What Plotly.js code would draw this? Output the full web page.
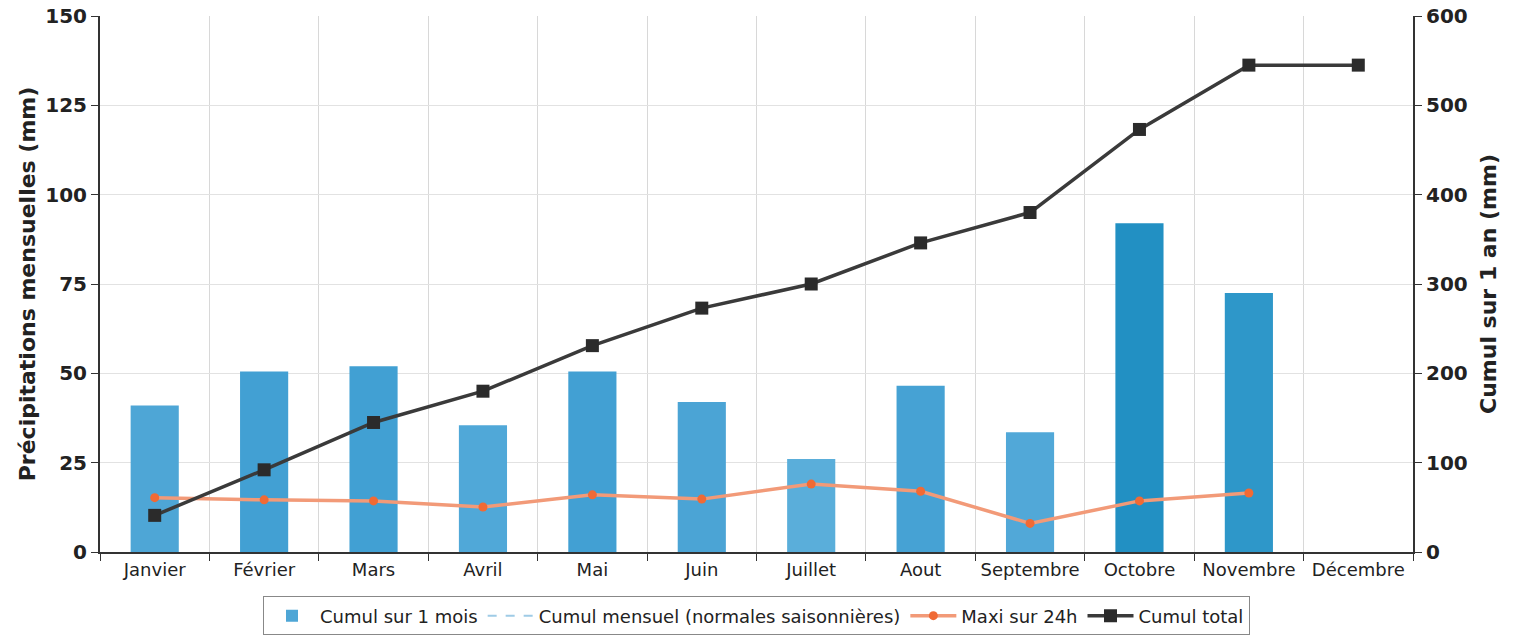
<!DOCTYPE html>
<html>
<head>
<meta charset="utf-8">
<script src="https://cdn.plot.ly/plotly-3.0.1.min.js"></script>
<style>html,body{margin:0;padding:0;background:#fff;}#chart{width:1521px;height:640px;}</style>
</head>
<body>
<div id="chart"></div>
<script>
const mois = ['Janvier','Février','Mars','Avril','Mai','Juin','Juillet','Aout','Septembre','Octobre','Novembre','Décembre'];
const cumulMois = [41, 50.5, 52, 35.5, 50.5, 42, 26, 46.5, 33.5, 92, 72.5, null];
const normales = [null, null, null, null, null, null, null, null, null, null, null, null];
const maxi24h = [15.2, 14.6, 14.3, 12.6, 16, 14.8, 19, 17, 8, 14.3, 16.5, null];
const cumulTotal = [41, 92, 145, 180, 231, 273, 300, 346, 380, 473, 545, 545];
const barColors = ['#4ea6d6','#42a0d3','#41a0d3','#50a8d8','#42a0d3','#4ba4d5','#5aaeda','#46a2d4','#51a8d8','#2290c3','#2e97c9','#2e97c9'];

const fam = 'DejaVu Sans, Verdana, sans-serif';

const traces = [
  {type: 'bar', name: 'Cumul sur 1 mois', x: mois, y: cumulMois, width: 0.44,
   marker: {color: barColors, line: {width: 0}}, yaxis: 'y'},
  {type: 'scatter', mode: 'lines', name: 'Cumul mensuel (normales saisonnières)', x: mois, y: normales,
   line: {color: '#9fcbe6', width: 2, dash: 'dash'}, yaxis: 'y'},
  {type: 'scatter', mode: 'lines+markers', name: 'Maxi sur 24h', x: mois, y: maxi24h,
   line: {color: '#f29a78', width: 3.5}, marker: {color: '#f06a35', size: 9, symbol: 'circle'}, yaxis: 'y'},
  {type: 'scatter', mode: 'lines+markers', name: 'Cumul total', x: mois, y: cumulTotal,
   line: {color: '#3a3a3a', width: 3.5}, marker: {color: '#2b2b2b', size: 13, symbol: 'square'}, yaxis: 'y2'}
];

const layout = {
  width: 1521, height: 640,
  margin: {l: 100, r: 108, t: 16, b: 88, autoexpand: false},
  paper_bgcolor: '#fff', plot_bgcolor: '#fff',
  font: {family: fam, size: 18, color: '#222'},
  showlegend: true,
  legend: {orientation: 'h', x: 0.5, xanchor: 'center', yref: 'container', y: 0.068, yanchor: 'top',
           bordercolor: '#888', borderwidth: 1, font: {family: fam, size: 18, color: '#222'},
           traceorder: 'normal', itemwidth: 46},
  xaxis: {type: 'category', tickson: 'boundaries', ticks: 'outside', ticklen: 7, tickcolor: '#333',
          showline: true, linecolor: '#333', linewidth: 2, showgrid: true, gridcolor: '#d8d8d8',
          tickangle: 0, automargin: false,
          tickfont: {family: fam, size: 18, color: '#222'}, range: [-0.5, 11.5], fixedrange: true},
  yaxis: {range: [0, 150], dtick: 25, ticks: 'outside', ticklen: 7, tickcolor: '#333',
          showline: true, linecolor: '#333', linewidth: 2, gridcolor: '#e2e2e2', zeroline: false,
          automargin: false,
          tickfont: {family: fam, size: 20, color: '#222', weight: 'bold'},
          title: {text: 'Précipitations mensuelles (mm)', standoff: 4,
                  font: {family: fam, size: 22, color: '#222', weight: 'bold'}}},
  yaxis2: {range: [0, 600], dtick: 100, overlaying: 'y', side: 'right', ticks: 'outside', ticklen: 7, tickcolor: '#333',
           showline: true, linecolor: '#333', linewidth: 2, showgrid: false, zeroline: false,
           automargin: false,
           tickfont: {family: fam, size: 20, color: '#222', weight: 'bold'},
           title: {text: 'Cumul sur 1 an (mm)', standoff: 14,
                   font: {family: fam, size: 22, color: '#222', weight: 'bold'}}}
};

Plotly.newPlot('chart', traces, layout, {displayModeBar: false, staticPlot: true});
</script>
</body>
</html>
